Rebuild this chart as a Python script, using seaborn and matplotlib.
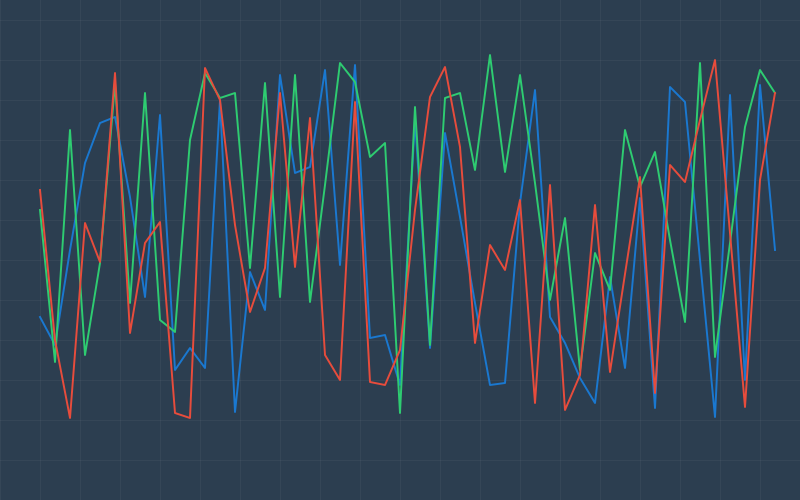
import numpy as np
import pandas as pd
import matplotlib
matplotlib.use("Agg")
import matplotlib.pyplot as plt
import seaborn as sns

# valores (escala 0-100), 50 puntos por serie
serie_azul = [36.6, 31, 50, 67.4, 75.4, 76.6, 60.6, 40.6, 77, 26,
              30.4, 26.4, 80, 17.6, 45.6, 38, 85, 65.4, 66.6, 86,
              47, 87, 32.4, 33, 23, 76, 30.4, 73.4, 56.6, 39.4,
              23, 23.4, 59.4, 82, 36.6, 31.4, 24.4, 19.4, 44.6, 26.4,
              60.4, 18.4, 82.6, 79.6, 48, 16.6, 81, 24, 83, 50]
serie_roja = [62, 32, 16.4, 55.4, 47.6, 85.4, 33.4, 51.4, 55.6, 17.4,
              16.4, 86.4, 80, 55, 37.6, 46.4, 81.4, 46.6, 76.4, 29,
              24, 79.6, 23.6, 23, 30, 58, 80.6, 86.6, 70.6, 31.4,
              51, 46, 60, 19.4, 63, 18, 25, 59, 25.6, 45.2,
              64.6, 21.4, 67, 63.6, 76, 88, 53.4, 18.6, 64, 81.4]
serie_verde = [58, 27.6, 74, 29, 47.4, 83.4, 39.4, 81.4, 36, 33.6,
               72, 85.4, 80.4, 81.4, 46.4, 83.4, 40.6, 85, 39.6, 63,
               87.4, 83.6, 68.6, 71.4, 17.4, 78.6, 31, 80.4, 81.4, 66,
               89, 65.6, 85, 63.4, 40, 56.4, 26, 49.4, 42, 74,
               62.6, 69.6, 52, 35.6, 87.4, 28.6, 51.4, 74.6, 86, 81.4]

indice = np.arange(len(serie_azul))
df = pd.DataFrame({"x": indice, "azul": serie_azul,
                   "roja": serie_roja, "verde": serie_verde})

fondo = "#2c3e50"
fig = plt.figure(figsize=(8, 5), dpi=100, facecolor=fondo)
ax = fig.add_axes([0, 0, 1, 1])
ax.set_facecolor(fondo)

# dibujar las tres series
sns.lineplot(data=df, x="x", y="azul", color="#1a78d0", linewidth=1.4, ax=ax)
sns.lineplot(data=df, x="x", y="verde", color="#2ecc71", linewidth=1.4, ax=ax)
sns.lineplot(data=df, x="x", y="roja", color="#e74c3c", linewidth=1.4, ax=ax)

# límites: el primer punto cae a 40 px del borde, paso de 15 px
ax.set_xlim(-40 / 15, 760 / 15)
ax.set_ylim(0, 100)

# rejilla cada 40 px
ax.set_xticks((np.arange(0, 801, 40) - 40) / 15)
ax.set_yticks(np.arange(0, 101, 8))
ax.grid(True, color="white", alpha=0.045, linewidth=0.9)
ax.tick_params(length=0, labelbottom=False, labelleft=False)
ax.set_xlabel("")
ax.set_ylabel("")
for s in ax.spines.values():
    s.set_visible(False)

plt.savefig("out.png", dpi=100, facecolor=fondo)
